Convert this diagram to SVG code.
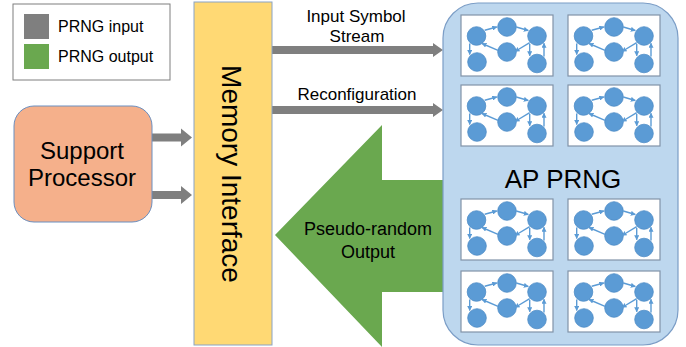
<svg xmlns="http://www.w3.org/2000/svg" xmlns:xlink="http://www.w3.org/1999/xlink" width="686" height="347" viewBox="0 0 686 347">
<style>
text{font-family:"Liberation Sans",Arial,sans-serif;fill:#000}
.lbl{font-size:17px;text-anchor:middle}
.gray{fill:#7f7f7f}
.green{fill:#6aa84f}
.sub{fill:#fff;stroke:#8193a8;stroke-width:1.2}
.n{fill:#5b9bd5;stroke:#4f8dc6;stroke-width:0.8}
.e{stroke:#5b9bd5;stroke-width:1.4;fill:none;marker-end:url(#ah)}
</style>
<defs>
<marker id="ah" viewBox="0 0 10 10" refX="9" refY="5" markerWidth="5" markerHeight="5" orient="auto" markerUnits="userSpaceOnUse">
<path d="M0,0 L10,5 L0,10 z" fill="#5b9bd5"/>
</marker>
<g id="sg">
<rect class="sub" x="0" y="0" width="92" height="61"/>
<circle class="n" cx="15.5" cy="21" r="9.3"/>
<circle class="n" cx="46" cy="12" r="9.3"/>
<circle class="n" cx="76" cy="21" r="9.3"/>
<circle class="n" cx="46" cy="37" r="9.3"/>
<circle class="n" cx="16" cy="47" r="9.3"/>
<circle class="n" cx="76" cy="48.5" r="9.3"/>
<path class="e" d="M23.7,15.3 L35.8,12"/>
<path class="e" d="M55.3,12 L67.3,15.5"/>
<path class="e" d="M8.7,28.5 L8.7,39.5"/>
<path class="e" d="M37,35.3 L21,28.5"/>
<path class="e" d="M68.7,27.7 L54,36.5"/>
<path class="e" d="M68.7,28.7 L68.7,40.8"/>
<path class="e" d="M83,41.5 L83,28.3"/>
</g>
</defs>

<g id="legend">
<rect x="13" y="4" width="157" height="76" fill="#fff" stroke="#7f7f7f" stroke-width="1"/>
<rect class="gray" x="24" y="14" width="25" height="25"/>
<rect class="green" x="24" y="44" width="25" height="25"/>
<text x="58" y="32" font-size="16">PRNG input</text>
<text x="58" y="62" font-size="16">PRNG output</text>
</g>

<g id="connectors">
<path class="gray" d="M152,133.5 H181 V128.5 L192,137.5 L181,146.5 V141.5 H152 z"/>
<path class="gray" d="M152,191 H181 V186 L192,195 L181,204 V199 H152 z"/>
<path class="gray" d="M272,46 H433 V43 L443,50 L433,57 V54 H272 z"/>
<path class="gray" d="M272,106 H433 V103 L443,110 L433,117 V114 H272 z"/>
<path class="green" d="M275,235 L382,125 V180 H447 V292 H382 V347 z"/>
<text class="lbl" x="356" y="22">Input Symbol</text>
<text class="lbl" x="357" y="42">Stream</text>
<text class="lbl" x="357" y="100">Reconfiguration</text>
<text x="368" y="235" font-size="18" text-anchor="middle">Pseudo-random</text>
<text x="368" y="258" font-size="18" text-anchor="middle">Output</text>
</g>

<g id="support-processor">
<rect x="14" y="106" width="138" height="116" rx="20" fill="#f5b08b" stroke="#6b8fc0" stroke-width="1"/>
<text x="82" y="159" font-size="24" text-anchor="middle">Support</text>
<text x="82" y="186" font-size="24" text-anchor="middle">Processor</text>
</g>

<g id="memory-interface">
<rect x="194" y="2" width="78" height="343" fill="#ffd974" stroke="#8aa3c6" stroke-width="1"/>
<text transform="translate(222,174) rotate(90)" font-size="28" text-anchor="middle">Memory Interface</text>
</g>

<g id="ap-prng">
<rect x="443" y="3" width="235" height="342" rx="35" fill="#bdd7ee" stroke="#7b9dc6" stroke-width="1.2"/>
<use xlink:href="#sg" x="461" y="15"/>
<use xlink:href="#sg" x="568" y="15"/>
<use xlink:href="#sg" x="461" y="85"/>
<use xlink:href="#sg" x="568" y="85"/>
<use xlink:href="#sg" x="461" y="199"/>
<use xlink:href="#sg" x="568" y="199"/>
<use xlink:href="#sg" x="461" y="271"/>
<use xlink:href="#sg" x="568" y="271"/>
<text x="563" y="188" font-size="26" text-anchor="middle">AP PRNG</text>
</g>
</svg>
